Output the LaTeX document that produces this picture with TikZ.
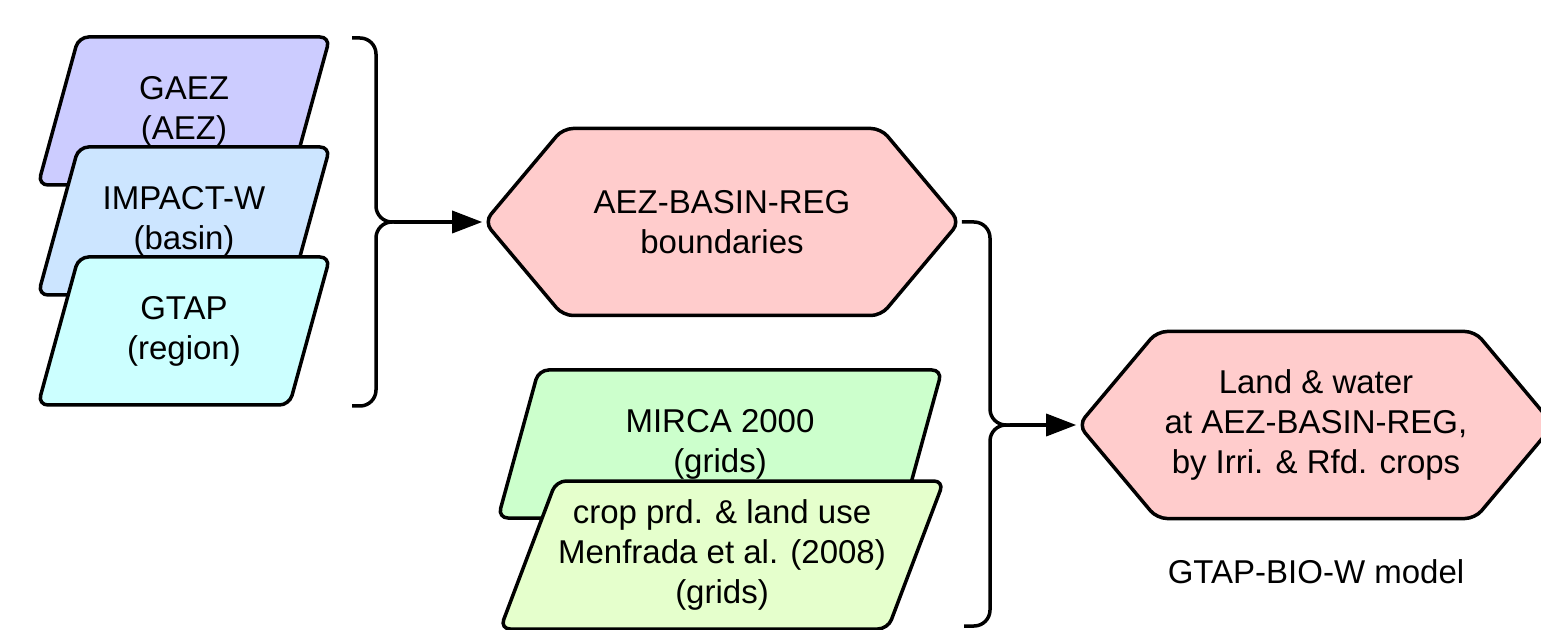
\documentclass[tikz,border=0pt]{standalone}
\usepackage{fontspec}
\setmainfont{Liberation Sans}
\usepackage{tikz}
\usetikzlibrary{positioning}
\usetikzlibrary{shapes,arrows.meta}
\definecolor{gaezcol}{HTML}{CCCCFF}
\definecolor{impactcol}{HTML}{CCE5FF}
\definecolor{gtapcol}{HTML}{CCFFFF}
\definecolor{mircacol}{HTML}{CCFFCC}
\definecolor{menfcol}{HTML}{E5FFCC}
\definecolor{hexcol}{HTML}{FFCCCC}
\tikzstyle{source} = [trapezium, trapezium left angle=64, trapezium right angle=116,
    trapezium stretches body, draw, line width=1.75pt, rounded corners=5pt,
    align=center, minimum height=74pt]
\tikzstyle{hexa} = [signal, signal to=west and east, signal pointer angle=100,
    draw, fill=hexcol, line width=1.75pt, rounded corners=5pt, align=center,
    minimum width=237.5pt, minimum height=93.5pt]
\tikzstyle{line} = [draw, line width=1.75pt, -{Triangle[length=15pt,width=11pt]}]
\tikzstyle{brace} = [draw, line width=1.75pt, rounded corners=8pt]

\begin{document}
\begin{tikzpicture}[x=0.5pt, y=-0.5pt, font=\fontsize{16.5}{20}\selectfont]
        \useasboundingbox (0,0) rectangle (1541,630);
            % Nodes
        \node [source, fill=gaezcol, minimum width=146pt] (gaez) at (184,111) {GAEZ\\(AEZ)};
        \node [source, fill=impactcol, minimum width=146pt] (impact) at (184,221) {IMPACT-W\\(basin)};
        \node [source, fill=gtapcol, minimum width=146pt] (gtap) at (184,331) {GTAP\\(region)};
        \node [hexa] (bound) at (722,222) {AEZ-BASIN-REG\\boundaries};
        \node [source, fill=mircacol, minimum width=222pt] (mirca) at (720,444) {MIRCA 2000\\(grids)};
        \node [source, fill=menfcol, inner sep=1pt, minimum width=216pt] (menf) at (722,555) {crop prd. \& land use\\Menfrada et al. (2008)\\(grids)};
        \node [hexa] (land) at (1316,425) {Land \& water\\at AEZ-BASIN-REG,\\by Irri. \& Rfd. crops};
        \node [below = 16pt of land] (model) {GTAP-BIO-W model};
            % Braces
        \coordinate (topA) at (352,38);
        \coordinate (botA) at (352,406);
        \coordinate (tipA) at (394,222);
        \coordinate (tipB) at (1010,425);
        \coordinate (botB) at (964,626);
        \path [brace] (topA) -| (376,222) -- (tipA);
        \path [brace] (tipA) -| (376,406) -- (botA);
        \path [brace] (bound.east) -| (990,425) -- (tipB);
        \path [brace] (tipB) -| (990,626) -- (botB);
            % Edges
        \path [line] (tipA) -- (bound.west);
        \path [line] (tipB) -- (land.west);
\end{tikzpicture}
\end{document}
